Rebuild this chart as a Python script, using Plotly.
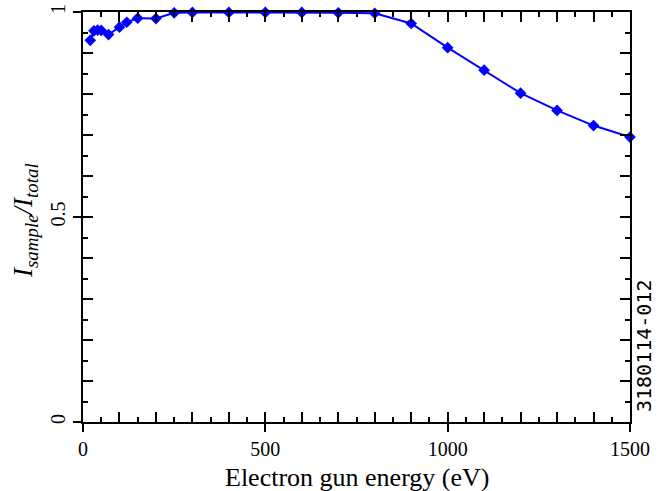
import plotly.graph_objects as go

energy = [20, 30, 40, 50, 70, 100, 120, 150, 200, 250, 300, 400, 500, 600, 700, 800,
          900, 1000, 1100, 1200, 1300, 1400, 1500]
ratio = [0.931, 0.954, 0.956, 0.955, 0.945, 0.963, 0.975, 0.985, 0.984, 0.998, 0.999,
         0.999, 0.999, 0.999, 0.998, 0.997, 0.972, 0.913, 0.858, 0.802, 0.760, 0.723, 0.695]

x_labels = [0, 500, 1000, 1500]
y_labels = [0, 0.5, 1]
y_label_text = ["0", "0.5", "1"]

x_title = "Electron gun energy (eV)"
y_title = "<i>I</i><sub><i>sample</i></sub><i>/I</i><sub><i>total</i></sub>"
figure_id = "3180114-012"

BLUE = "#0000ff"
SERIF = "Liberation Serif"

fig = go.Figure()
fig.add_trace(go.Scatter(
    x=energy, y=ratio, mode="lines+markers",
    line=dict(color=BLUE, width=2),
    marker=dict(symbol="diamond", size=9, color=BLUE),
    xaxis="x", yaxis="y", showlegend=False, cliponaxis=False,
))
# invisible trace on overlay axes so they are drawn
fig.add_trace(go.Scatter(x=[None], y=[None], xaxis="x2", yaxis="y2", showlegend=False))

fig.update_layout(
    template="none",
    width=671, height=491,
    margin=dict(l=83, r=41, t=12, b=69, autoexpand=False),
    paper_bgcolor="white", plot_bgcolor="white",
    font=dict(family=SERIF, size=20, color="black"),
    xaxis=dict(
        range=[0, 1500], tickvals=x_labels, ticks="outside", ticklen=8, tickwidth=1.5,
        tickcolor="black", showline=True, linecolor="black", linewidth=1.5,
        showgrid=False, zeroline=False, tickfont=dict(family=SERIF, size=20),
        ticklabelstandoff=0, automargin=False,
    ),
    yaxis=dict(
        range=[0, 1], tickvals=y_labels, ticktext=y_label_text, ticks="outside", ticklen=8,
        tickwidth=1.5, tickcolor="black", showline=True, linecolor="black", linewidth=1.5,
        showgrid=False, zeroline=False, tickangle=-90, tickfont=dict(family=SERIF, size=20),
        ticklabelstandoff=0, automargin=False,
    ),
    xaxis2=dict(
        range=[0, 1500], overlaying="x", anchor="y2", side="bottom", dtick=100, tick0=0,
        ticks="inside", ticklen=10, tickwidth=1.5, tickcolor="black", showticklabels=False,
        showline=True, linecolor="black", linewidth=1.5, mirror="ticks",
        showgrid=False, zeroline=False, automargin=False,
        minor=dict(dtick=50, ticks="inside", ticklen=5, tickwidth=1.5, tickcolor="black", showgrid=False),
    ),
    yaxis2=dict(
        range=[0, 1], overlaying="y", anchor="x2", side="left", dtick=0.1, tick0=0,
        ticks="inside", ticklen=10, tickwidth=1.5, tickcolor="black", showticklabels=False,
        showline=True, linecolor="black", linewidth=1.5, mirror="ticks",
        showgrid=False, zeroline=False, automargin=False,
        minor=dict(dtick=0.05, ticks="inside", ticklen=5, tickwidth=1.5, tickcolor="black", showgrid=False),
    ),
    annotations=[
        dict(text=x_title, xref="paper", yref="paper", x=0.5, y=0.0,
             xanchor="center", yanchor="top", yshift=-39, showarrow=False,
             font=dict(family=SERIF, size=26, color="black")),
        dict(text=y_title, xref="paper", yref="paper", x=0.0, y=0.5,
             xanchor="center", yanchor="middle", xshift=-58, yshift=-4, textangle=-90,
             showarrow=False, font=dict(family=SERIF, size=27, color="black")),
        dict(text=figure_id, xref="paper", yref="paper", x=1.0, y=0.0,
             xanchor="left", yanchor="bottom", xshift=0, yshift=8, textangle=-90,
             showarrow=False, font=dict(family="DejaVu Sans Mono", size=20, color="black")),
    ],
)

fig.write_html("out.html", config={"displayModeBar": False},
               post_script="document.body.style.margin='0';")
